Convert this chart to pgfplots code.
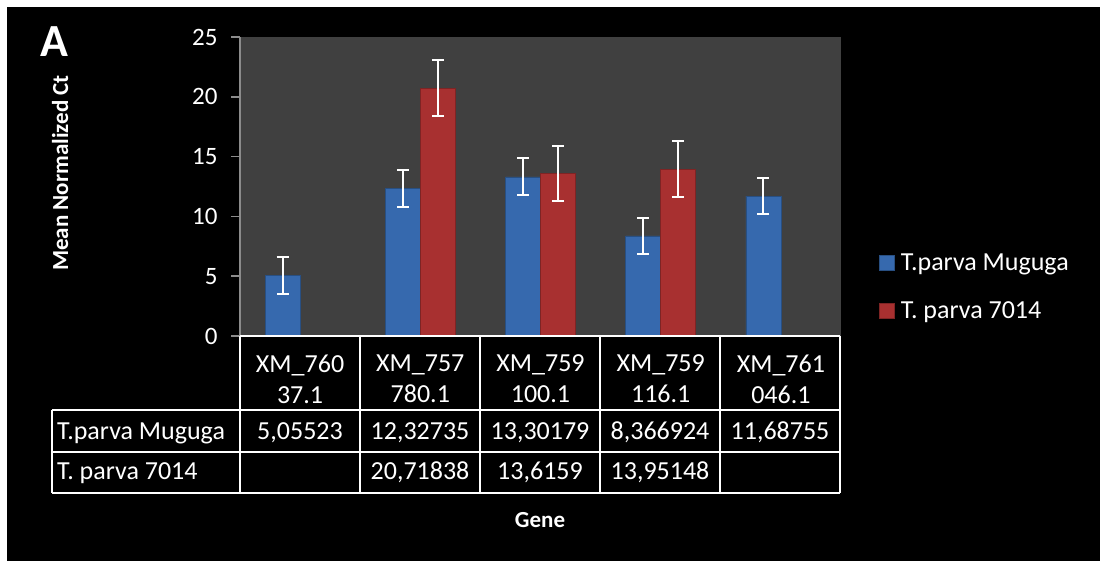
\documentclass[border=0pt]{standalone}
\usepackage{pgfplots}
\pgfplotsset{compat=1.18}
\usepackage{pgfplotstable}
\usepackage{fontspec}
\setmainfont{Carlito}
\definecolor{plotbg}{HTML}{404040}
\definecolor{axgray}{HTML}{8C8C8C}
\definecolor{bluemid}{HTML}{4D8FDF}
\definecolor{blueedge}{HTML}{3669AE}
\definecolor{redmid}{HTML}{D94848}
\definecolor{rededge}{HTML}{A83030}

\pgfplotstableread{
x y err
0 5.05523 1.53
1 12.32735 1.53
2 13.30179 1.55
3 8.366924 1.53
4 11.68755 1.52
}\muguga
\pgfplotstableread{
x y err
1 20.71838 2.35
2 13.6159 2.31
3 13.95148 2.33
}\seventy

\begin{document}
\begin{tikzpicture}
\fill[black] (-20pt,-20pt) rectangle (1120pt,580pt);
\fill[white] (-20pt,553pt) rectangle (1120pt,580pt);
\fill[white] (-20pt,-20pt) rectangle (7pt,580pt);
\begin{axis}[
  at={(240pt,224pt)}, anchor=south west,
  scale only axis, width=601pt, height=299pt,
  xmin=-0.5, xmax=4.5, ymin=0, ymax=25,
  ytick={0,5,...,25},
  xtick={0,1,2,3,4},
  xticklabels={{XM\_760\\37.1},{XM\_757\\780.1},{XM\_759\\100.1},{XM\_759\\116.1},{XM\_761\\046.1}},
  axis background/.style={fill=plotbg},
  axis line style={draw=none},
  tick align=outside, major tick length=9pt,
  ytick pos=left,
  ytick style={draw=axgray, line width=1.5pt},
  xtick style={draw=none},
  /pgf/number format/assume math mode=true,
  yticklabel shift=10pt,
  yticklabel style={text=white, font=\fontsize{25}{30}\selectfont},
  xticklabel style={text=white, font=\fontsize{26}{31}\selectfont, align=center, anchor=center, yshift=-34pt},
  extra description/.code={\draw[axgray, line width=1.5pt] (axis description cs:0,0) -- (axis description cs:0,1);},
  ybar=0pt, bar width=35pt,
  clip=false,
  legend style={at={(1.0635,0.283)}, anchor=north west, draw=none, fill=none, text=white,
    font=\fontsize{26}{31}\selectfont, inner sep=0pt, row sep=26pt, nodes={inner ysep=2pt, inner xsep=6pt}},
  legend cell align=left,
  legend image code/.code={\fill[#1] (0pt,-7.5pt) rectangle (15pt,7.5pt);},
]
\addplot[left color=blueedge, middle color=bluemid, right color=blueedge, draw=blueedge!75!black, line width=0.6pt,
  error bars/.cd, y dir=both, y explicit,
  error bar style={white, line width=2pt},
  error mark options={rotate=90, white, mark size=6pt, line width=2pt}]
  table[x=x, y=y, y error=err] {\muguga};
\addlegendentry{T.parva Muguga}
\addplot[left color=rededge, middle color=redmid, right color=rededge, draw=rededge!75!black, line width=0.6pt,
  error bars/.cd, y dir=both, y explicit,
  error bar style={white, line width=2pt},
  error mark options={rotate=90, white, mark size=6pt, line width=2pt}]
  table[x=x, y=y, y error=err] {\seventy};
\addlegendentry{T. parva 7014}
\end{axis}
% data table grid
\begin{scope}[white, line width=2pt]
\draw (240pt,224pt) -- (840pt,224pt);
\draw (52pt,150pt) -- (840pt,150pt);
\draw (52pt,108pt) -- (840pt,108pt);
\draw (52pt,67pt) -- (840pt,67pt);
\draw (52pt,150pt) -- (52pt,67pt);
\foreach \xx in {240,360,480,600,720,840} {\draw (\xx pt,224pt) -- (\xx pt,67pt);}
\end{scope}
\begin{scope}[every node/.style={text=white, font=\fontsize{26}{31}\selectfont, inner sep=0pt}]
\node[anchor=base west] at (57pt,121pt) {T.parva Muguga};
\node[anchor=base] at (300pt,121pt) {5,05523};
\node[anchor=base] at (420pt,121pt) {12,32735};
\node[anchor=base] at (540pt,121pt) {13,30179};
\node[anchor=base] at (660pt,121pt) {8,366924};
\node[anchor=base] at (780pt,121pt) {11,68755};
\node[anchor=base west] at (57pt,81pt) {T. parva 7014};
\node[anchor=base] at (420pt,81pt) {20,71838};
\node[anchor=base] at (540pt,81pt) {13,6159};
\node[anchor=base] at (660pt,81pt) {13,95148};
\end{scope}
\node[rotate=90, anchor=base, text=white, font=\bfseries\fontsize{23}{28}\selectfont] at (68pt,387pt) {Mean Normalized Ct};
\node[anchor=base, text=white, font=\bfseries\fontsize{46}{50}\selectfont] at (54pt,503pt) {A};
\node[anchor=base, text=white, font=\bfseries\fontsize{23}{28}\selectfont] at (540pt,33pt) {Gene};
\pgfresetboundingbox
\useasboundingbox (0pt,0pt) rectangle (1100pt,560pt);
\end{tikzpicture}
\end{document}
